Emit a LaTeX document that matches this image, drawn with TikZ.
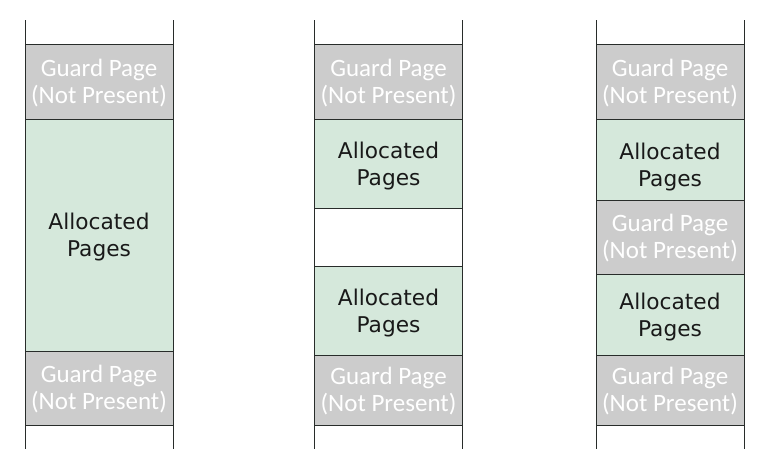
\documentclass[tikz,border=0pt]{standalone}
\usepackage{fontspec}
\usepackage{tikz}
\usetikzlibrary{positioning}
\newfontfamily\guardfont{Carlito}
\newfontfamily\allocfont{DejaVu Sans}
\definecolor{guardgray}{RGB}{204,204,204}
\definecolor{allocgreen}{RGB}{213,232,219}
\definecolor{edge}{RGB}{40,44,42}

\begin{document}
\begin{tikzpicture}[x=1pt,y=-1pt,
    page/.style={draw=edge,line width=1pt,minimum width=148pt,inner sep=0pt,outer sep=0pt,align=center,
                 text height=43pt,text depth=0pt},
    guard/.style={page,fill=guardgray,text=white,font=\guardfont\fontsize{25}{27}\selectfont},
    alloc/.style={page,fill=allocgreen,text=black!90,font=\allocfont\fontsize{21.7}{27}\selectfont},
    free/.style={page,fill=white,text height=0pt,text depth=0pt}]
       \useasboundingbox (0,0) rectangle (767,467);

       % contiguous allocation
       \node[guard,minimum height=75pt,anchor=north] (gtop1) at (99,44) {Guard Page\\(Not Present)};
       \node[alloc,minimum height=232pt] (alloc1) [below=0pt of gtop1] {Allocated\\Pages};
       \node[guard,minimum height=74pt] (gbot1) [below=0pt of alloc1] {Guard Page\\(Not Present)};

       % allocation with a hole
       \node[guard,minimum height=75pt,anchor=north] (gtop2) at (388.5,44) {Guard Page\\(Not Present)};
       \node[alloc,minimum height=89pt] (alloc2a) [below=0pt of gtop2] {Allocated\\Pages};
       \node[free,minimum height=58pt] (hole2) [below=0pt of alloc2a] {};
       \node[alloc,minimum height=89pt] (alloc2b) [below=0pt of hole2] {Allocated\\Pages};
       \node[guard,minimum height=70pt] (gbot2) [below=0pt of alloc2b] {Guard Page\\(Not Present)};

       % allocation with a guard page between
       \node[guard,minimum height=75pt,anchor=north] (gtop3) at (670,44) {Guard Page\\(Not Present)};
       \node[alloc,minimum height=81pt,text height=54pt] (alloc3a) [below=0pt of gtop3] {Allocated\\Pages};
       \node[guard,minimum height=74pt] (gmid3) [below=0pt of alloc3a] {Guard Page\\(Not Present)};
       \node[alloc,minimum height=81pt] (alloc3b) [below=0pt of gmid3] {Allocated\\Pages};
       \node[guard,minimum height=70pt] (gbot3) [below=0pt of alloc3b] {Guard Page\\(Not Present)};

       \draw [edge,line width=1pt] ([yshift=24pt]gtop1.north west) -- ([yshift=-24pt]gbot1.south west);
       \draw [edge,line width=1pt] ([yshift=24pt]gtop1.north east) -- ([yshift=-24pt]gbot1.south east);
       \draw [edge,line width=1pt] ([yshift=24pt]gtop2.north west) -- ([yshift=-24pt]gbot2.south west);
       \draw [edge,line width=1pt] ([yshift=24pt]gtop2.north east) -- ([yshift=-24pt]gbot2.south east);
       \draw [edge,line width=1pt] ([yshift=24pt]gtop3.north west) -- ([yshift=-24pt]gbot3.south west);
       \draw [edge,line width=1pt] ([yshift=24pt]gtop3.north east) -- ([yshift=-24pt]gbot3.south east);
    \end{tikzpicture}
\end{document}
